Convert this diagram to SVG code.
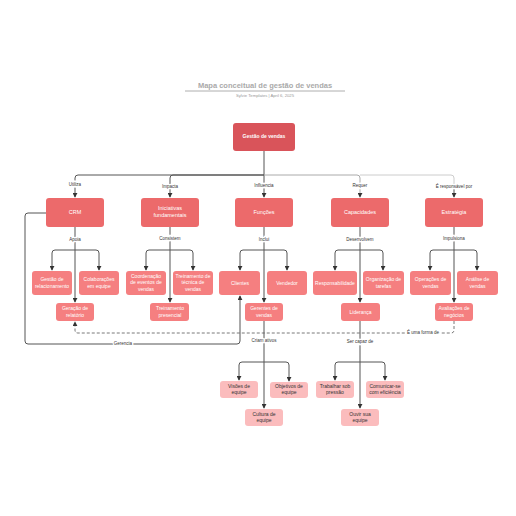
<svg xmlns="http://www.w3.org/2000/svg" width="516" height="516" viewBox="0 0 516 516">
<defs>
<marker id="arr" viewBox="0 0 6 6" refX="5" refY="3" markerWidth="5" markerHeight="5" orient="auto" markerUnits="userSpaceOnUse">
<path d="M0 0 L6 3 L0 6 Z" fill="#333"/>
</marker>
<style>
.c{fill:none;stroke:#555;stroke-width:1}
.cl{fill:none;stroke:#aaa;stroke-width:1}
.cv{fill:none;stroke:#ccc;stroke-width:1}
.d{fill:none;stroke:#555;stroke-width:0.8;stroke-dasharray:3 2}
.a{marker-end:url(#arr)}
.lb{font-family:"Liberation Sans",Arial,sans-serif;font-size:4.5px;fill:#333;text-anchor:middle;dominant-baseline:middle;paint-order:stroke;stroke:#fff;stroke-width:2.5px}
.n0{fill:#d9545a}
.n1{fill:#ec6a6b}
.n2{fill:#f57f80}
.n3{fill:#fbbcbd}
.t{font-family:"Liberation Sans",Arial,sans-serif;font-size:5px;fill:#fff;text-anchor:middle;dominant-baseline:middle}
.t1{font-size:5.5px}
.tb{font-weight:bold}
.t3{fill:#333}
</style>
</defs>
<rect width="516" height="516" fill="#fff"/>
<g id="title">
<text x="265" y="86" font-family="Liberation Sans,Arial,sans-serif" font-size="7.5" font-weight="bold" fill="#aaa" text-anchor="middle" dominant-baseline="middle">Mapa conceitual de gestão de vendas</text>
<line x1="185" y1="91" x2="345" y2="91" stroke="#999" stroke-width="0.8"/>
<text x="265" y="95.5" font-family="Liberation Sans,Arial,sans-serif" font-size="4.2" fill="#999" text-anchor="middle" dominant-baseline="middle">Sylvie Templates  |  April 6, 2025</text>
</g>
<g id="connectors">
<path class="c" d="M264 151 V175"/>
<path class="c a" d="M264 175 H78 Q75 175 75 178 V197"/>
<path class="c a" d="M264 175 H173 Q170 175 170 178 V197"/>
<path class="c a" d="M264 175 V197"/>
<path class="cl a" d="M264 175 H357 Q360 175 360 178 V197"/>
<path class="cv" d="M360 175 H451 Q454 175 454 178 V188"/>
<path class="c a" d="M454 186 V197"/>
<path class="c a" d="M75 227 V302"/>
<path class="c a" d="M75 250 H55 Q52 250 52 253 V270"/>
<path class="c a" d="M75 250 H96 Q99 250 99 253 V270"/>
<path class="c a" d="M170 227 V302"/>
<path class="c a" d="M170 250 H149 Q146 250 146 253 V270"/>
<path class="c a" d="M170 250 H190 Q193 250 193 253 V270"/>
<path class="c a" d="M264 227 V302"/>
<path class="c a" d="M264 250 H243 Q240 250 240 253 V270"/>
<path class="c a" d="M264 250 H284 Q287 250 287 253 V270"/>
<path class="c a" d="M360 227 V302"/>
<path class="c a" d="M360 250 H338 Q335 250 335 253 V270"/>
<path class="c a" d="M360 250 H380 Q383 250 383 253 V270"/>
<path class="c a" d="M454 227 V302"/>
<path class="c a" d="M454 250 H433 Q430 250 430 253 V270"/>
<path class="c a" d="M454 250 H474 Q477 250 477 253 V270"/>
<path class="c a" d="M264 321 V408"/>
<path class="c a" d="M264 362 H242 Q239 362 239 365 V380"/>
<path class="c a" d="M264 362 H286 Q289 362 289 365 V381"/>
<path class="c a" d="M360 321 V408"/>
<path class="c a" d="M360 362 H338 Q335 362 335 365 V380"/>
<path class="c a" d="M360 362 H382 Q385 362 385 365 V380"/>
<path class="d a" d="M454 321 V330 Q454 333 451 333 H78 Q75 333 75 330 V322"/>
<path class="c a" d="M46 213 H28 Q25 213 25 216 V341 Q25 344 28 344 H237 Q240 344 240 341 V296"/>
<text class="lb" x="75" y="185">Utiliza</text>
<text class="lb" x="170" y="187">Impacta</text>
<text class="lb" x="264" y="186">Influencia</text>
<text class="lb" x="360" y="186">Requer</text>
<text class="lb" x="454" y="187">É responsável por</text>
<text class="lb" x="75" y="240">Apoia</text>
<text class="lb" x="170" y="239">Consistem</text>
<text class="lb" x="264" y="239.5">Inclui</text>
<text class="lb" x="360" y="240">Desenvolvem</text>
<text class="lb" x="454" y="239">Impulsiona</text>
<text class="lb" x="264" y="341">Criam ativos</text>
<text class="lb" x="360" y="342">Ser capaz de</text>
<text class="lb" x="423" y="333">É uma forma de</text>
<text class="lb" x="123" y="344">Gerencia</text>
</g>
<g id="gestao-de-vendas"><rect class="n0" x="233" y="123" width="62" height="28" rx="3"/><text class="t tb" x="264" y="137">Gestão de vendas</text></g>
<g id="crm"><rect class="n1" x="46" y="198" width="58" height="29" rx="3"/><text class="t t1" x="75" y="212.5">CRM</text></g>
<g id="iniciativas"><rect class="n1" x="141" y="198" width="58" height="29" rx="3"/><text class="t t1" x="170" y="209">Iniciativas</text><text class="t t1" x="170" y="216">fundamentais</text></g>
<g id="funcoes"><rect class="n1" x="235" y="198" width="58" height="29" rx="3"/><text class="t t1" x="264" y="212.5">Funções</text></g>
<g id="capacidades"><rect class="n1" x="331" y="198" width="58" height="29" rx="3"/><text class="t t1" x="360" y="212.5">Capacidades</text></g>
<g id="estrategia"><rect class="n1" x="425" y="198" width="58" height="29" rx="3"/><text class="t t1" x="454" y="212.5">Estratégia</text></g>
<g id="gestao-relacionamento"><rect class="n2" x="32" y="271" width="40" height="24" rx="3"/><text class="t" x="52" y="280">Gestão de</text><text class="t" x="52" y="286.5">relacionamento</text></g>
<g id="colaboracoes"><rect class="n2" x="79" y="271" width="40" height="24" rx="3"/><text class="t" x="99" y="280">Colaborações</text><text class="t" x="99" y="286.5">em equipe</text></g>
<g id="geracao-relatorio"><rect class="n2" x="56" y="303" width="38" height="18" rx="3"/><text class="t" x="75" y="309">Geração de</text><text class="t" x="75" y="315.5">relatório</text></g>
<g id="coordenacao"><rect class="n2" x="126" y="271" width="40" height="24" rx="3"/><text class="t" x="146" y="277">Coordenação</text><text class="t" x="146" y="283">de eventos de</text><text class="t" x="146" y="289.5">vendas</text></g>
<g id="treinamento-tecnica"><rect class="n2" x="173" y="271" width="40" height="24" rx="3"/><text class="t" x="193" y="277">Treinamento de</text><text class="t" x="193" y="283">técnica de</text><text class="t" x="193" y="289.5">vendas</text></g>
<g id="treinamento-presencial"><rect class="n2" x="150" y="303" width="39" height="18" rx="3"/><text class="t" x="170" y="309">Treinamento</text><text class="t" x="170" y="315.5">presencial</text></g>
<g id="clientes"><rect class="n2" x="219" y="271" width="41" height="24" rx="3"/><text class="t" x="240" y="283.5">Clientes</text></g>
<g id="vendedor"><rect class="n2" x="267" y="271" width="40" height="24" rx="3"/><text class="t" x="287" y="283.5">Vendedor</text></g>
<g id="gerentes-de-vendas"><rect class="n2" x="245" y="303" width="38" height="18" rx="3"/><text class="t" x="264" y="309">Gerentes de</text><text class="t" x="264" y="315.5">vendas</text></g>
<g id="responsabilidade"><rect class="n2" x="313" y="271" width="44" height="24" rx="3"/><text class="t" x="335" y="283.5">Responsabilidade</text></g>
<g id="organizacao"><rect class="n2" x="363" y="271" width="41" height="24" rx="3"/><text class="t" x="383.5" y="280">Organização de</text><text class="t" x="383.5" y="286.5">tarefas</text></g>
<g id="lideranca"><rect class="n2" x="341" y="303" width="39" height="18" rx="3"/><text class="t" x="360.5" y="312.5">Liderança</text></g>
<g id="operacoes"><rect class="n2" x="410" y="271" width="41" height="24" rx="3"/><text class="t" x="430.5" y="280">Operações de</text><text class="t" x="430.5" y="286.5">vendas</text></g>
<g id="analise"><rect class="n2" x="457" y="271" width="41" height="24" rx="3"/><text class="t" x="477.5" y="280">Análise de</text><text class="t" x="477.5" y="286.5">vendas</text></g>
<g id="avaliacoes"><rect class="n2" x="435" y="303" width="38" height="18" rx="3"/><text class="t" x="454" y="309">Avaliações de</text><text class="t" x="454" y="315.5">negócios</text></g>
<g id="visoes-equipe"><rect class="n3" x="220" y="381" width="38" height="17" rx="3"/><text class="t t3" x="239" y="386.5">Visões de</text><text class="t t3" x="239" y="392.5">equipe</text></g>
<g id="objetivos-equipe"><rect class="n3" x="270" y="382" width="38" height="16" rx="3"/><text class="t t3" x="289" y="387">Objetivos de</text><text class="t t3" x="289" y="393">equipe</text></g>
<g id="cultura-equipe"><rect class="n3" x="245" y="409" width="38" height="17" rx="3"/><text class="t t3" x="264" y="414.5">Cultura de</text><text class="t t3" x="264" y="420.5">equipe</text></g>
<g id="trabalhar-pressao"><rect class="n3" x="316" y="381" width="38" height="17" rx="3"/><text class="t t3" x="335" y="386.5">Trabalhar sob</text><text class="t t3" x="335" y="392.5">pressão</text></g>
<g id="comunicar"><rect class="n3" x="366" y="381" width="38" height="17" rx="3"/><text class="t t3" x="385" y="386.5">Comunicar-se</text><text class="t t3" x="385" y="392.5">com eficiência</text></g>
<g id="ouvir-equipe"><rect class="n3" x="341" y="409" width="38" height="17" rx="3"/><text class="t t3" x="360" y="414.5">Ouvir sua</text><text class="t t3" x="360" y="420.5">equipe</text></g>
</svg>
